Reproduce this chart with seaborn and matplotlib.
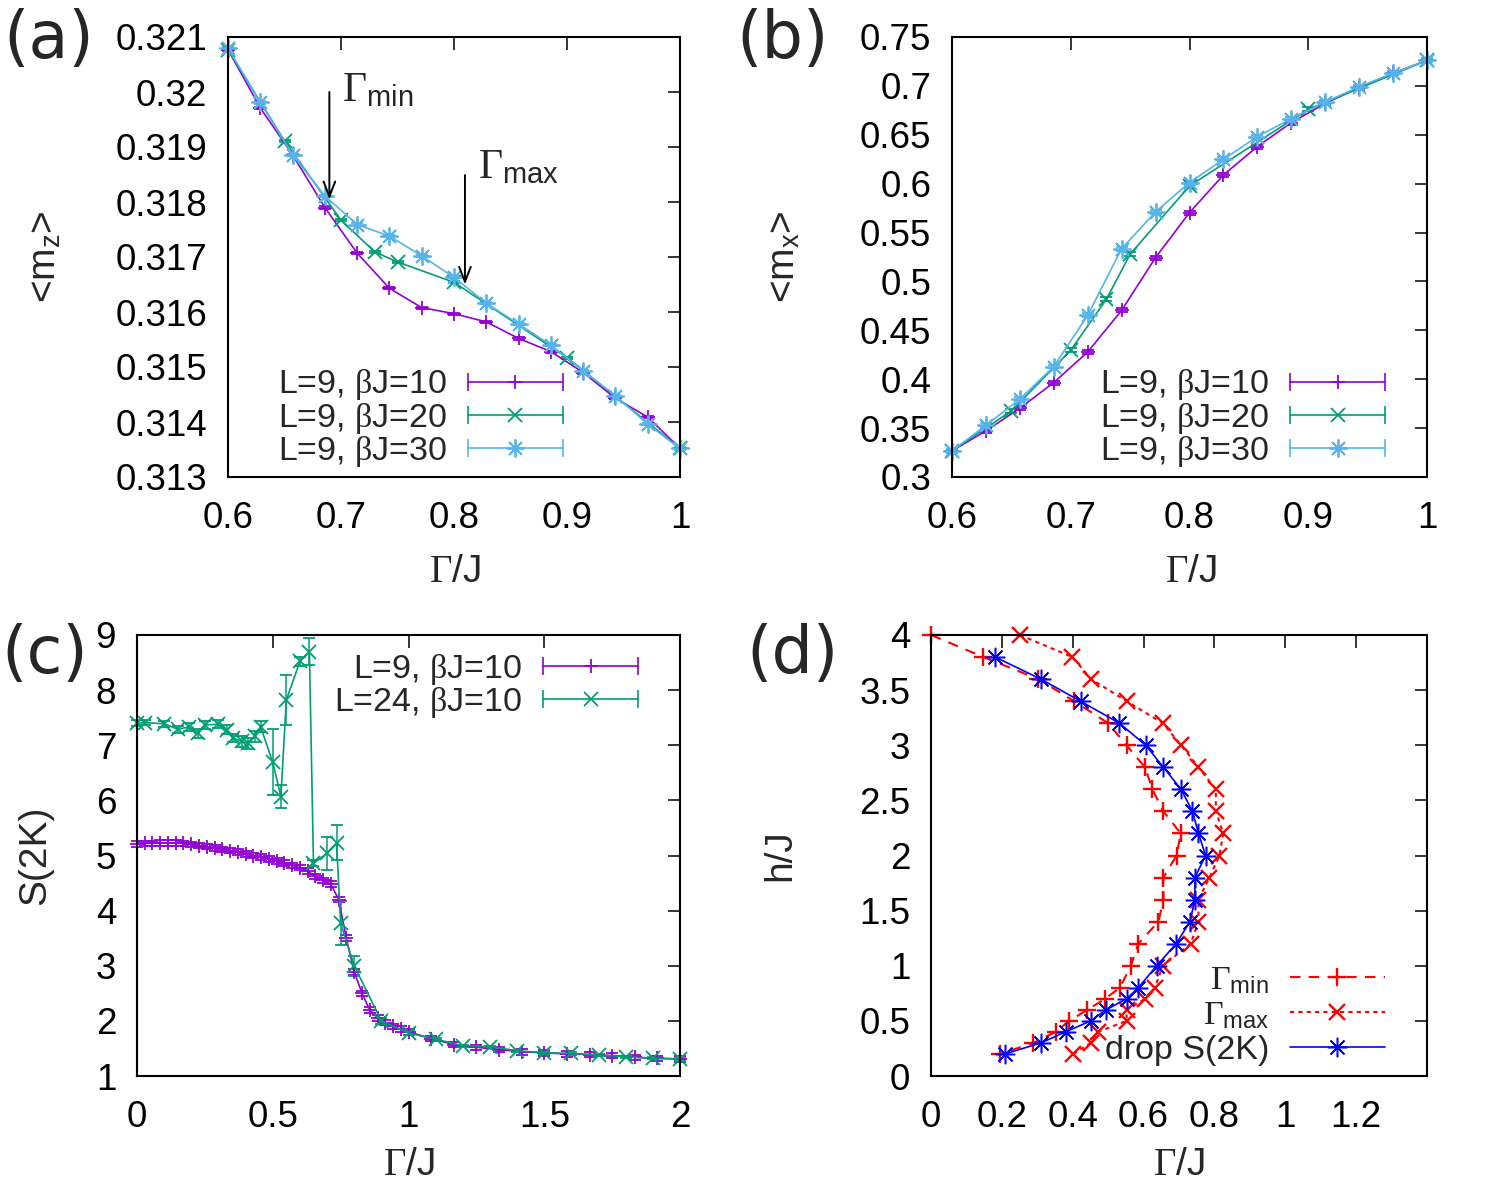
import matplotlib
matplotlib.use("Agg")
import matplotlib.pyplot as plt
import seaborn as sns
from matplotlib.lines import Line2D
from matplotlib.legend_handler import HandlerLine2D, HandlerTuple
from matplotlib.ticker import FuncFormatter

# ---- data ----
# (a), (b): Gamma/J grids
gam_ab = [0.6, 0.6286, 0.6571, 0.6857, 0.7143, 0.7429, 0.7714, 0.8,
          0.8286, 0.8571, 0.8857, 0.9143, 0.9429, 0.9714, 1.0]
gam_ab20 = [0.6, 0.65, 0.7, 0.73, 0.75, 0.8, 0.9, 1.0]

mz_b10 = [0.32077, 0.31971, 0.31886, 0.31790, 0.31707, 0.31643, 0.31608, 0.31597,
          0.31582, 0.31552, 0.31528, 0.31490, 0.31443, 0.31409, 0.31352]
mz_b20 = [0.32077, 0.31911, 0.31767, 0.31709, 0.31691, 0.31654, 0.31517, 0.31352]
mz_b30 = [0.32080, 0.31981, 0.31886, 0.31811, 0.31759, 0.31738, 0.31702, 0.31663,
          0.31616, 0.31578, 0.31540, 0.31493, 0.31448, 0.31396, 0.31352]
mz_err = 0.00002

mx_b10 = [0.3267, 0.3472, 0.3703, 0.3966, 0.4279, 0.4705, 0.5244, 0.5704,
          0.6089, 0.6379, 0.6624, 0.6822, 0.6982, 0.7129, 0.7261]
mx_b20 = [0.3267, 0.3676, 0.4296, 0.4818, 0.5278, 0.5977, 0.6760, 0.7261]
mx_b30 = [0.3267, 0.3530, 0.3796, 0.4130, 0.4654, 0.5336, 0.5711, 0.6011,
          0.6249, 0.6481, 0.6665, 0.6835, 0.6992, 0.7129, 0.7261]
mx_err = 0.002

# (c): S(2K)
gam_c9 = [0.000, 0.029, 0.057, 0.086, 0.114, 0.143, 0.171, 0.200, 0.229, 0.257,
          0.286, 0.314, 0.343, 0.371, 0.400, 0.429, 0.457, 0.486, 0.514, 0.543,
          0.571, 0.600, 0.629, 0.657, 0.686, 0.714, 0.743, 0.771, 0.800, 0.829,
          0.857, 0.886, 0.914, 0.943, 0.971, 1.000, 1.083, 1.167, 1.250, 1.333,
          1.417, 1.500, 1.583, 1.667, 1.750, 1.833, 1.917, 2.000]
s_L9 = [5.21, 5.22, 5.22, 5.23, 5.23, 5.23, 5.22, 5.20, 5.18, 5.16,
        5.14, 5.11, 5.09, 5.06, 5.03, 5.00, 4.97, 4.94, 4.90, 4.86,
        4.82, 4.78, 4.72, 4.62, 4.55, 4.48, 4.20, 3.50, 2.89, 2.50,
        2.20, 2.05, 1.97, 1.90, 1.85, 1.80, 1.68, 1.57, 1.52, 1.48,
        1.44, 1.42, 1.40, 1.39, 1.37, 1.34, 1.32, 1.31]
s_L9_err = 0.05

gam_c24 = [0.0, 0.03, 0.1, 0.15, 0.19, 0.225, 0.25, 0.3, 0.33, 0.355,
           0.385, 0.41, 0.435, 0.455, 0.5, 0.53, 0.55, 0.6, 0.635, 0.65,
           0.7, 0.735, 0.75, 0.8, 0.9, 1.0, 1.1, 1.2, 1.3, 1.4,
           1.5, 1.6, 1.7, 1.8, 1.9, 2.0]
s_L24 = [7.40, 7.41, 7.39, 7.29, 7.33, 7.22, 7.37, 7.38, 7.28, 7.13,
         7.07, 7.04, 7.16, 7.34, 6.69, 6.07, 7.82, 8.52, 8.70, 4.86,
         5.04, 5.23, 3.77, 3.00, 2.00, 1.78, 1.67, 1.55, 1.53, 1.46,
         1.42, 1.41, 1.38, 1.35, 1.32, 1.31]
s_L24_err = [0.05, 0.05, 0.05, 0.06, 0.07, 0.08, 0.07, 0.07, 0.08, 0.08,
             0.1, 0.1, 0.1, 0.1, 0.6, 0.2, 0.45, 0.08, 0.25, 0.05,
             0.3, 0.32, 0.4, 0.18, 0.05, 0.03, 0.02, 0.02, 0.02, 0.02,
             0.02, 0.02, 0.02, 0.02, 0.02, 0.02]

# (d): phase boundaries
h_min = [4.0, 3.8, 3.6, 3.4, 3.2, 3.0, 2.8, 2.6, 2.4, 2.2, 2.0, 1.8,
         1.6, 1.4, 1.2, 1.0, 0.8, 0.7, 0.6, 0.5, 0.4, 0.3, 0.2]
g_min = [0.0, 0.148, 0.303, 0.404, 0.50, 0.552, 0.604, 0.625, 0.656, 0.705, 0.693, 0.656,
         0.656, 0.642, 0.585, 0.564, 0.533, 0.491, 0.441, 0.390, 0.352, 0.289, 0.195]
h_max = h_min
g_max = [0.251, 0.399, 0.452, 0.552, 0.654, 0.706, 0.755, 0.804, 0.804, 0.825, 0.814, 0.786,
         0.755, 0.755, 0.733, 0.654, 0.632, 0.604, 0.552, 0.552, 0.472, 0.451, 0.402]
h_drop = [3.8, 3.6, 3.4, 3.2, 3.0, 2.8, 2.6, 2.4, 2.2, 2.0, 1.8,
          1.6, 1.4, 1.2, 1.0, 0.8, 0.7, 0.6, 0.5, 0.4, 0.3, 0.2]
g_drop = [0.181, 0.310, 0.422, 0.532, 0.606, 0.656, 0.706, 0.738, 0.755, 0.775, 0.745,
          0.745, 0.731, 0.692, 0.637, 0.585, 0.552, 0.494, 0.451, 0.380, 0.310, 0.209]

# ---- style ----
sns.set_theme(style="white")
plt.rcParams["font.family"] = ["Liberation Sans", "DejaVu Sans"]
plt.rcParams["mathtext.fontset"] = "custom"
plt.rcParams["mathtext.rm"] = "Liberation Serif"
plt.rcParams["mathtext.it"] = "Liberation Serif"
plt.rcParams["mathtext.sf"] = "Liberation Sans"

PURPLE = "#9400D3"
GREEN = "#009E73"
CYAN = "#56B4E9"
FS = 26.5     # tick labels
AFS = 28      # axis labels
LFS = 24.5    # legend
ASTER = (8, 2, 0)

fig = plt.figure(figsize=(14.95, 11.96), dpi=100)
W, H = 1495, 1196


def axes_px(l, r, t, b):
    return fig.add_axes([l / W, 1 - b / H, (r - l) / W, (b - t) / H])


ax_a = axes_px(228, 680, 37, 477)
ax_b = axes_px(952, 1427, 37, 477)
ax_c = axes_px(137, 680, 635, 1076)
ax_d = axes_px(931, 1427, 635, 1076)

gfmt = FuncFormatter(lambda v, p: f"{v:g}")
for ax in (ax_a, ax_b, ax_c, ax_d):
    for s in ax.spines.values():
        s.set_color("black")
        s.set_linewidth(1.5)
    ax.tick_params(direction="in", top=True, right=True, length=9, width=1.1,
                   colors="black", labelsize=FS, pad=15)
    ax.tick_params(axis="x", pad=17)
    ax.xaxis.set_major_formatter(gfmt)
    ax.yaxis.set_major_formatter(gfmt)


def eb(ax, x, y, e, color, marker, ms=10):
    ax.errorbar(x, y, yerr=e, color=color, marker=marker, ms=ms, mew=1.3,
                lw=1.2, elinewidth=1.1, capsize=4, capthick=1.1, clip_on=False)


def eb_handles(specs):
    handles, hmap = [], {}
    for color, marker, ms in specs:
        main = Line2D([], [], color=color, marker=marker, ms=ms, mew=1.3, lw=1.2)
        caps = Line2D([], [], color=color, marker="|", ms=13, mew=1.2, lw=0)
        hmap[caps] = HandlerLine2D(numpoints=2, marker_pad=0)
        handles.append((main, caps))
    hmap[tuple] = HandlerTuple(ndivide=1, pad=0)
    return handles, hmap


leg_kw = dict(fontsize=LFS, frameon=False, markerfirst=False, handlelength=2.8,
              handletextpad=0.6, borderpad=0, borderaxespad=0)
ab_labels = [r"L=9, $\beta$J=10", r"L=9, $\beta$J=20", r"L=9, $\beta$J=30"]
ab_specs = [(PURPLE, "+", 10), (GREEN, "x", 10), (CYAN, ASTER, 13)]

# ---- (a) ----
eb(ax_a, gam_ab, mz_b10, mz_err, PURPLE, "+")
eb(ax_a, gam_ab20, mz_b20, mz_err, GREEN, "x")
eb(ax_a, gam_ab, mz_b30, mz_err, CYAN, ASTER, ms=13)
ax_a.set_xlim(0.6, 1.0)
ax_a.set_ylim(0.313, 0.321)
ax_a.set_xticks([0.6, 0.7, 0.8, 0.9, 1.0])
ax_a.set_yticks([0.313, 0.314, 0.315, 0.316, 0.317, 0.318, 0.319, 0.32, 0.321])
hs, hm = eb_handles(ab_specs)
ax_a.legend(hs, ab_labels, handler_map=hm, loc="lower right",
            bbox_to_anchor=(0.741, 0.018), labelspacing=-0.05, **leg_kw)
arrow = dict(arrowstyle="->,head_length=0.9,head_width=0.35", lw=1.4, color="black",
             shrinkA=0, shrinkB=0)
ax_a.annotate("", xy=(0.6897, 0.31805), xytext=(0.6897, 0.3200), arrowprops=arrow)
ax_a.annotate("", xy=(0.8097, 0.31650), xytext=(0.8097, 0.31849), arrowprops=arrow)
ax_a.text(0.7009, 0.31983, r"$\Gamma_{\mathsf{min}}$", fontsize=30, ha="left", va="baseline")
ax_a.text(0.8215, 0.31844, r"$\Gamma_{\mathsf{max}}$", fontsize=30, ha="left", va="baseline")
ax_a.set_xlabel(r"$\Gamma$/J", fontsize=AFS, va="center")
ax_a.set_ylabel(r"<m$_{\mathsf{z}}$>", fontsize=AFS, va="center")
ax_a.xaxis.set_label_coords(0.502, -0.215)
ax_a.yaxis.set_label_coords(-0.405, 0.5)

# ---- (b) ----
eb(ax_b, gam_ab, mx_b10, mx_err, PURPLE, "+")
eb(ax_b, gam_ab20, mx_b20, mx_err, GREEN, "x")
eb(ax_b, gam_ab, mx_b30, mx_err, CYAN, ASTER, ms=13)
ax_b.set_xlim(0.6, 1.0)
ax_b.set_ylim(0.3, 0.75)
ax_b.set_xticks([0.6, 0.7, 0.8, 0.9, 1.0])
ax_b.set_yticks([0.3, 0.35, 0.4, 0.45, 0.5, 0.55, 0.6, 0.65, 0.7, 0.75])
hs, hm = eb_handles(ab_specs)
ax_b.legend(hs, ab_labels, handler_map=hm, loc="lower right",
            bbox_to_anchor=(0.912, 0.018), labelspacing=-0.05, **leg_kw)
ax_b.set_xlabel(r"$\Gamma$/J", fontsize=AFS, va="center")
ax_b.set_ylabel(r"<m$_{\mathsf{x}}$>", fontsize=AFS, va="center")
ax_b.xaxis.set_label_coords(0.502, -0.215)
ax_b.yaxis.set_label_coords(-0.352, 0.5)

# ---- (c) ----
eb(ax_c, gam_c9, s_L9, s_L9_err, PURPLE, "+")
eb(ax_c, gam_c24, s_L24, s_L24_err, GREEN, "x")
ax_c.set_xlim(0, 2)
ax_c.set_ylim(1, 9)
ax_c.set_xticks([0, 0.5, 1, 1.5, 2])
ax_c.set_yticks(range(1, 10))
hs, hm = eb_handles([(PURPLE, "+", 10), (GREEN, "x", 10)])
ax_c.legend(hs, [r"L=9, $\beta$J=10", r"L=24, $\beta$J=10"], handler_map=hm,
            loc="upper right", bbox_to_anchor=(0.923, 0.962), labelspacing=-0.05, **leg_kw)
ax_c.set_xlabel(r"$\Gamma$/J", fontsize=AFS, va="center")
ax_c.set_ylabel("S(2K)", fontsize=AFS, va="center")
ax_c.xaxis.set_label_coords(0.5, -0.202)
ax_c.yaxis.set_label_coords(-0.188, 0.5)

# ---- (d) ----
sns.lineplot(x=g_min, y=h_min, sort=False, estimator=None, ax=ax_d, color="red",
             marker="+", markersize=13, markeredgewidth=1.7, markeredgecolor="red",
             linestyle=(0, (5, 4)), lw=1.5, clip_on=False, label=r"$\Gamma_{\mathsf{min}}$")
sns.lineplot(x=g_max, y=h_max, sort=False, estimator=None, ax=ax_d, color="red",
             marker="x", markersize=12, markeredgewidth=1.7, markeredgecolor="red",
             linestyle=(0, (2, 2)), lw=1.5, clip_on=False, label=r"$\Gamma_{\mathsf{max}}$")
sns.lineplot(x=g_drop, y=h_drop, sort=False, estimator=None, ax=ax_d, color="blue",
             marker=ASTER, markersize=14, markeredgewidth=1.1, markeredgecolor="blue",
             lw=1.2, clip_on=False, label="drop S(2K)")
ax_d.set_xlim(0, 1.4)
ax_d.set_ylim(0, 4)
ax_d.set_xticks([0, 0.2, 0.4, 0.6, 0.8, 1.0, 1.2])
ax_d.set_yticks([0, 0.5, 1, 1.5, 2, 2.5, 3, 3.5, 4])
ax_d.legend(loc="lower right", bbox_to_anchor=(0.915, 0.022), labelspacing=0.12, **leg_kw)
ax_d.set_xlabel(r"$\Gamma$/J", fontsize=AFS, va="center")
ax_d.set_ylabel("h/J", fontsize=AFS, va="center")
ax_d.xaxis.set_label_coords(0.5, -0.202)
ax_d.yaxis.set_label_coords(-0.304, 0.5)

# panel tags
for tag, x, y in [("(a)", 3, 40), ("(b)", 736, 40), ("(c)", 1, 655), ("(d)", 746, 655)]:
    fig.text(x / W, 1 - y / H, tag, fontsize=47, family="DejaVu Sans",
             ha="left", va="center")

fig.savefig("out.png", dpi=100)
